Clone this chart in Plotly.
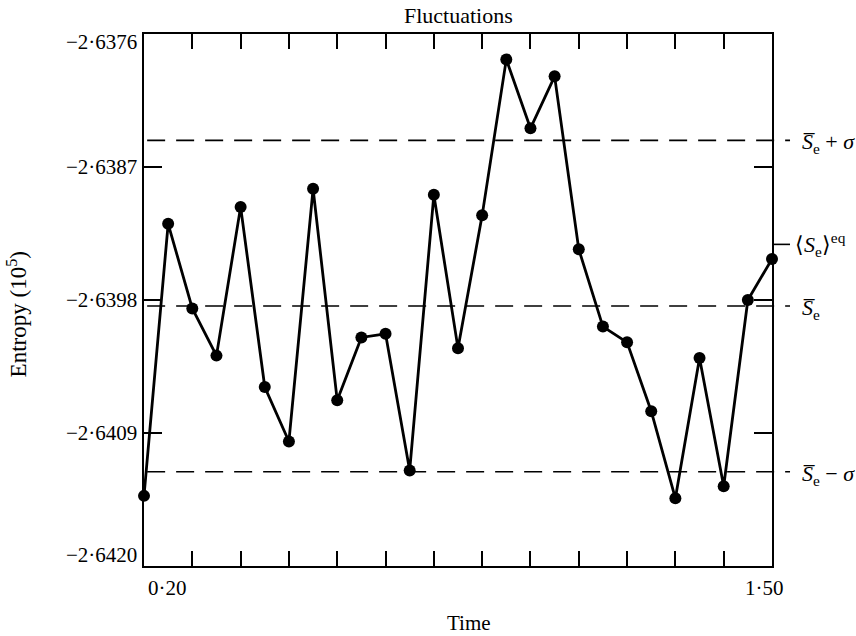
import plotly.graph_objects as go

# Entropy fluctuation record (units of 10^5)
time = [0.20, 0.25, 0.30, 0.35, 0.40, 0.45, 0.50, 0.55, 0.60, 0.65,
        0.70, 0.75, 0.80, 0.85, 0.90, 0.95, 1.00, 1.05, 1.10, 1.15,
        1.20, 1.25, 1.30, 1.35, 1.40, 1.45, 1.50]
entropy = [-2.64142, -2.63917, -2.63987, -2.64026, -2.63903, -2.64052,
           -2.64097, -2.63888, -2.64063, -2.64011, -2.64008, -2.64121,
           -2.63893, -2.64020, -2.63910, -2.63781, -2.63838, -2.63795,
           -2.63938, -2.64002, -2.64015, -2.64072, -2.64144, -2.64028,
           -2.64134, -2.63980, -2.63946]

# Reference levels: mean, mean +/- sigma, equilibrium value
s_mean = -2.63985
s_sigma = 0.00137
s_eq = -2.63934
ref_levels = [s_mean + s_sigma, s_mean, s_mean - s_sigma]
ref_labels = ["<i>S\u0305</i><sub>e</sub> + <i>σ</i>",
              "<i>S\u0305</i><sub>e</sub>",
              "<i>S\u0305</i><sub>e</sub> − <i>σ</i>"]
eq_label = "⟨<i>S</i><sub>e</sub>⟩<sup>eq</sup>"

# Axis ticks
x_ticks = [0.2, 0.3, 0.4, 0.5, 0.6, 0.7, 0.8, 0.9, 1.0, 1.1, 1.2, 1.3, 1.4, 1.5]
x_label_vals = [0.20, 1.50]
x_label_text = ["0·20", "1·50"]
y_ticks = [-2.6420, -2.6409, -2.6398, -2.6387, -2.6376]
y_tick_text = ["−2·6420", "−2·6409", "−2·6398", "−2·6387", "−2·6376"]

FONT = "Liberation Serif"
x_min, x_max = 0.20, 1.50
y_min, y_max = -2.6420, -2.6376

fig = go.Figure()
fig.add_trace(go.Scatter(
    x=time, y=entropy, mode="lines+markers",
    line=dict(color="black", width=2.8),
    marker=dict(color="black", size=12),
    cliponaxis=False, showlegend=False, hoverinfo="skip",
))

# dashed reference lines running slightly past the right frame
for lvl in ref_levels:
    fig.add_shape(type="line", xref="paper", yref="y",
                  x0=0.005, x1=1.0287, y0=lvl, y1=lvl,
                  line=dict(color="black", width=1.6, dash="18px,11px"))
# short outward mark for the equilibrium value
fig.add_shape(type="line", xref="paper", yref="y",
              x0=1.0, x1=1.0287, y0=s_eq, y1=s_eq,
              line=dict(color="black", width=1.6))

annotations = []
for lvl, txt in zip(ref_levels, ref_labels):
    annotations.append(dict(xref="paper", yref="y", x=1.0446, y=lvl,
                            text=txt, showarrow=False, xanchor="left",
                            yanchor="middle", yshift=-3,
                            font=dict(family=FONT, size=22, color="black")))
annotations.append(dict(xref="paper", yref="y", x=1.0334, y=s_eq,
                        text=eq_label, showarrow=False, xanchor="left",
                        yanchor="middle",
                        font=dict(family=FONT, size=22, color="black")))

# y tick labels; the two end labels sit just inside the frame
y_shift = {0: 11, len(y_ticks) - 1: -8}
for i, (v, t) in enumerate(zip(y_ticks, y_tick_text)):
    annotations.append(dict(xref="paper", yref="y", x=0, y=v, text=t,
                            showarrow=False, xanchor="right", yanchor="middle",
                            xshift=-5, yshift=y_shift.get(i, 0),
                            font=dict(family=FONT, size=21, color="black")))

# x tick labels at the two ends only
x_shift = [23, -8]
for v, t, s in zip(x_label_vals, x_label_text, x_shift):
    annotations.append(dict(xref="x", yref="paper", x=v, y=0, text=t,
                            showarrow=False, xanchor="center", yanchor="middle",
                            xshift=s, yshift=-22,
                            font=dict(family=FONT, size=21, color="black")))

annotations.append(dict(xref="paper", yref="paper", x=0.5175, y=0, text="Time",
                        showarrow=False, xanchor="center", yanchor="middle",
                        yshift=-57, font=dict(family=FONT, size=21, color="black")))
annotations.append(dict(xref="paper", yref="paper", x=-0.2022, y=0.473,
                        text="Entropy (10<sup>5</sup>)", textangle=-90,
                        showarrow=False, xanchor="center", yanchor="middle",
                        font=dict(family=FONT, size=23, color="black")))
annotations.append(dict(xref="paper", yref="paper", x=0.5, y=1, text="Fluctuations",
                        showarrow=False, xanchor="center", yanchor="middle",
                        yshift=19, font=dict(family=FONT, size=22, color="black")))

fig.update_layout(
    width=856, height=636,
    margin=dict(l=144, r=84, t=34, b=70, pad=0),
    paper_bgcolor="white", plot_bgcolor="white",
    annotations=annotations,
    xaxis=dict(range=[x_min, x_max], tickvals=x_ticks, showticklabels=False,
               ticks="inside", ticklen=15, tickwidth=1.5, tickcolor="black",
               showline=True, linecolor="black", linewidth=2, mirror="ticks",
               showgrid=False, zeroline=False),
    yaxis=dict(range=[y_min, y_max], tickvals=y_ticks, showticklabels=False,
               ticks="inside", ticklen=18, tickwidth=1.5, tickcolor="black",
               showline=True, linecolor="black", linewidth=2, mirror="ticks",
               showgrid=False, zeroline=False),
)

fig.write_html("out.html")
